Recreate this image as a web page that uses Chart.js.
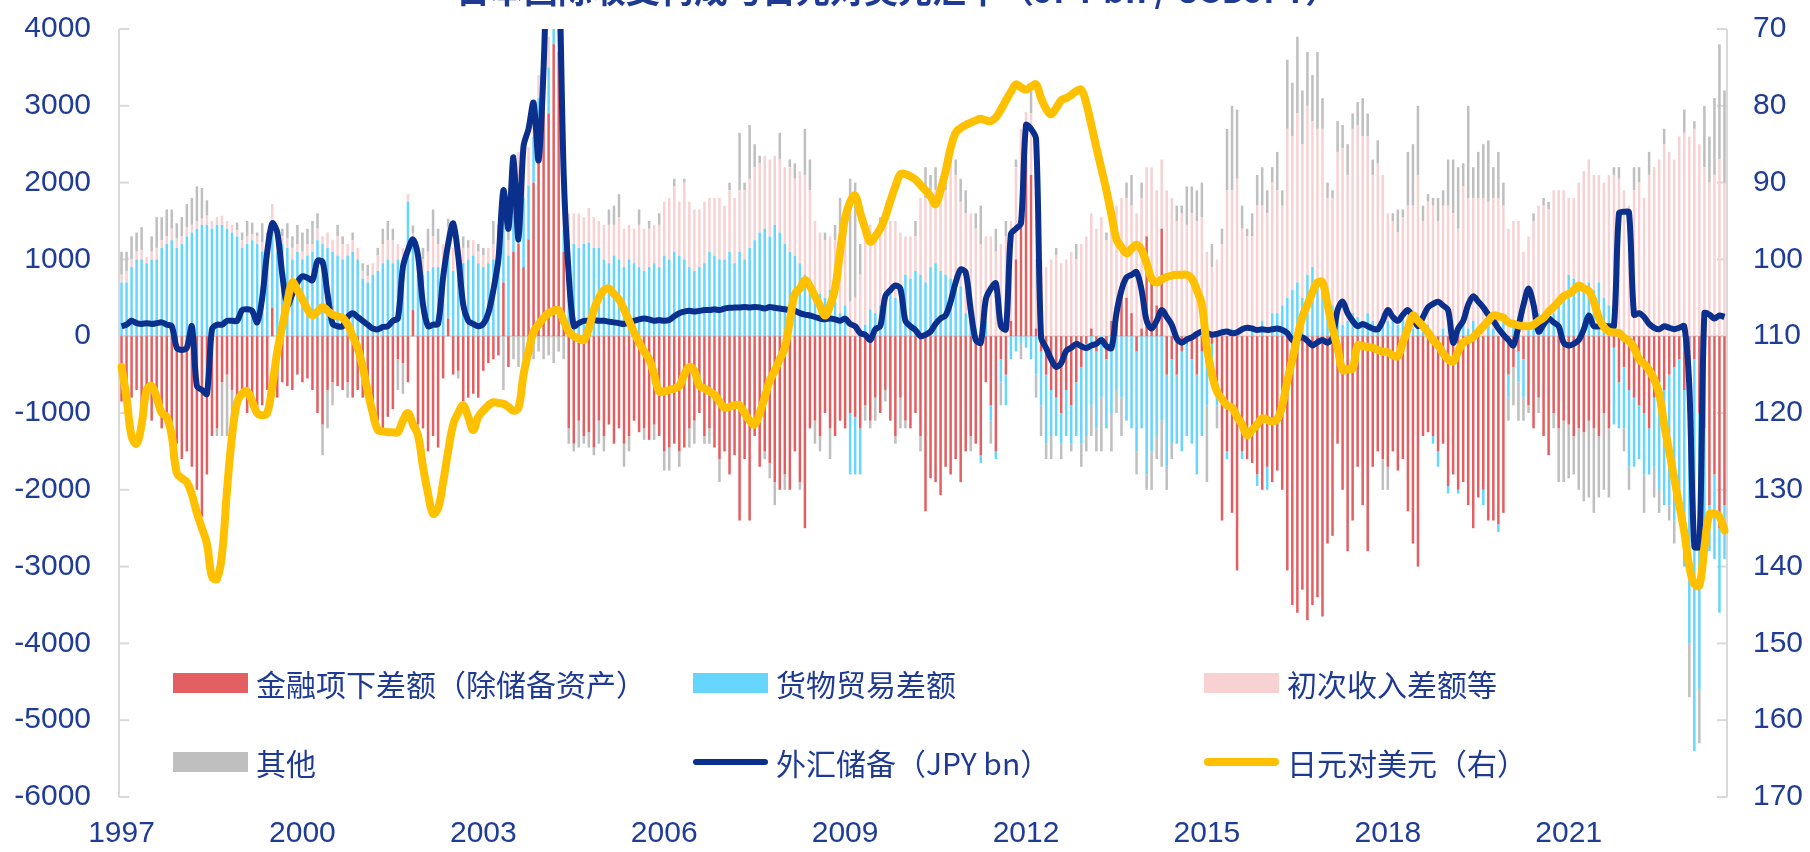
<!DOCTYPE html>
<html>
<head>
<meta charset="utf-8">
<script src="https://cdn.jsdelivr.net/npm/chart.js@4.4.0/dist/chart.umd.min.js"></script>
<style>
html, body { margin: 0; padding: 0; background: #fff; overflow: hidden; }
#wrap { position: relative; width: 1810px; height: 852px; }
#title { position: absolute; left: 456px; top: -28px; font: bold 34px/34px "Noto Sans CJK SC"; color: #1F3A93; white-space: nowrap; }
.leg { position: absolute; display: flex; align-items: center; height: 36px; font: 30px/36px "Noto Sans CJK SC"; color: #1F3A93; white-space: nowrap; }
.sw { width: 75px; height: 20px; margin-right: 8px; }
.ln { width: 75px; margin-right: 8px; border-radius: 4px; }
</style>
</head>
<body>
<div id="wrap">
  <canvas id="c" width="1810" height="852"></canvas>
  <div id="title">日本国际收支构成与日元对美元汇率（JPY bn / USDJPY）</div>
  <div class="leg" style="left:173px;top:665px"><span class="sw" style="background:#E45F61"></span>金融项下差额（除储备资产）</div>
  <div class="leg" style="left:693px;top:665px"><span class="sw" style="background:#66D6FF"></span>货物贸易差额</div>
  <div class="leg" style="left:1204px;top:665px"><span class="sw" style="background:#F8D2D2"></span>初次收入差额等</div>
  <div class="leg" style="left:173px;top:744px"><span class="sw" style="background:#BFBFBF"></span>其他</div>
  <div class="leg" style="left:693px;top:744px"><span class="ln" style="height:6px;background:#0A2F8C"></span>外汇储备（JPY bn）</div>
  <div class="leg" style="left:1204px;top:744px"><span class="ln" style="height:8px;background:#FFC000"></span>日元对美元（右）</div>
</div>
<script>
// monthly, Jan 1997 - Aug 2023, JPY bn (bars and reserves), JPY per USD (right axis)
const startYear = 1997
const yearTicks = ['1997', '2000', '2003', '2006', '2009', '2012', '2015', '2018', '2021']

const finBalance = [
  -850, -1000, -800, -700, -900, -650, -1100, -800, -1200, -1050, -1600, -1400,
  -1600, -1500, -1700, -2000, -2350, -1800, -1300, -1200, -600, -500, -700, -900,
  -700, -1000, -800, -1050, -900, -700, 370, -800, -600, -650, -700, -500,
  -600, -550, -700, -1000, -1150, -700, -600, -650, -700, -600, -800, -700,
  -800, -700, -1000, -1100, -1200, -1050, -950, -300, -350, -600, 340, -1150,
  -1200, -1500, -1300, -1450, -550, 230, -500, -450, -850, -800, -750, -800,
  -450, -350, -300, -250, 700, -400, 1100, 1200, 900, 1260, 2000, 2600,
  3100, 2900, 3800, 3700, 1100, -1200, -1400, -1100, -1300, -1250, -1450, -1100,
  -1300, -1150, -1400, -1200, -1400, -1300, -1100, -1250, -1200, -1350, -1150, -1300,
  -1500, -1450, -1400, -1500, -1450, -1200, -1100, -1000, -1300, -1200, -1450, -1600,
  -1500, -1800, -1550, -2400, -1600, -2400, -1300, -1700, -1500, -1650, -1900, -2000,
  -1800, -2000, -1500, -1900, -2500, -1200, -1100, -1300, -1000, -1200, -1300, -1100,
  -1200, -1000, -1050, -1200, -900, -1100, -800, -1000, -700, -1100, -1300, -800,
  -1100, -1200, -1000, -1300, -2280, -1850, -1900, -2070, -1700, -1800, -1600, -1900,
  -1500, -1300, -1400, -1550, -600, -900, -1500, -300, -500, 200, 1000, 1600,
  2320, 2100, 100, -200, -500, -700, -800, -1000, -700, -900, -600, -400,
  -100, 100, -200, 0, -300, 200, 400, 700, 500, 300, -200, 100,
  1300, 800, 400, 1400, -500, -300, -500, -200, -100, -300, -500, -200,
  -300, -100, -700, -2400, -1500, -2300, -3050, -1500, -1600, -1650, -1800, -2000,
  -1700, -1900, -1750, -2000, -3050, -3500, -3600, -3300, -3700, -3500, -3400, -3650,
  -2700, -2600, -1400, -2000, -2800, -2400, -1700, -2200, -2800, -1700, -1500, -1600,
  -1700, -1500, -1750, -1600, -2280, -2700, -3000, -1300, -1250, -1300, -1500, -1400,
  -1950, -1800, -2000, -1900, -2200, -2500, -2100, -2000, -2400, -2400, -2450, -2300,
  -500, -400, -200, -300, -900, -1200, -800, -1300, -1550, -1000, -1200, -1100,
  -1150, -1300, -1200, -1250, -1100, -1200, -1300, -1000, -1200, -150, -600, -400,
  -700, -800, -900, -1000, -1200, -800, -600, -700, -500, -400, -300, -700,
  -500, -300, -1000, -1200, -2200, -1800, -2500, -2200
]

const goodsBalance = [
  700, 700, 900, 1000, 1000, 950, 1000, 1000, 1150, 1200, 1250, 1150,
  1200, 1300, 1350, 1400, 1450, 1450, 1400, 1450, 1450, 1400, 1350, 1300,
  1150, 1200, 1250, 1200, 1100, 1000, 1050, 1100, 1200, 1150, 1000, 1100,
  1000, 1050, 1100, 1250, 1200, 1150, 1100, 1050, 1000, 1050, 1100, 1000,
  750, 700, 800, 850, 950, 1000, 950, 1000, 900, 1750, 850, 800,
  800, 850, 900, 900, 950, 1000, 850, 900, 950, 1000, 1050, 950,
  900, 950, 1000, 950, 900, 1050, 700, 800, 900, 700, 600, 500,
  500, 600, 400, 500, 300, 1250, 1200, 1150, 1200, 1220, 1150, 1150,
  1000, 950, 1050, 1000, 900, 1000, 950, 900, 850, 900, 950, 900,
  1050, 1000, 1100, 1050, 1000, 900, 850, 900, 950, 1100, 1050, 1000,
  1000, 1100, 950, 1100, 1000, 1150, 1250, 1350, 1400, 1300, 1450, 1350,
  1200, 1100, 1050, 950, 800, 700, 600, 550, 500, 600, 450, 300,
  400, -800, -750, -600, 150, 350, 300, 400, 500, 550, 500, 600,
  800, 750, 850, 800, 700, 900, 950, 850, 800, 750, 700, 650,
  300, 200, 100, -100, 200, -200, -100, -300, -400, -300, -200, -100,
  -150, -300, -500, -700, -900, -600, -500, -400, -600, -500, -700, -1000,
  -1200, -900, -1000, -800, -900, -1000, -700, -800, -1100, -1200, -1300, -1200,
  -1800, -1500, -1300, -1100, -1200, -1100, -900, -1300, -1200, -1100, -1300, -1100,
  -600, -400, -200, 100, -100, 100, 50, -100, 0, 100, -150, 200,
  -300, 300, 300, 400, 500, 600, 700, 500, 800, 900, 700, 600,
  300, 400, 200, 150, 200, 300, 250, 200, 300, 200, 150, 300,
  200, 300, 150, 250, 200, 100, 200, 100, 150, -100, -200, 100,
  -100, 100, -50, 150, 100, 200, 100, -200, 150, 100, -100, 200,
  -300, 200, -400, -500, 100, 200, 300, 200, 250, 300, 400, 500,
  800, 750, 700, 650, 700, 600, 700, 500, 400, -1000, -600, -800,
  -1000, -900, -700, -800, -600, -900, -1400, -1500, -1700, -2000, -1800, -2300,
  -3500, -5100, -3600, -1700, -600, -1100, -1100, -700
]

const incomeBalance = [
  100, 150, 100, 100, 120, 80, 100, 150, 100, 100, 150, 120,
  100, 120, 100, 100, 80, 120, 100, 100, 120, 100, 100, 80,
  100, 100, 80, 100, 120, 150, 300, 100, 100, 120, 150, 100,
  100, 150, 100, 150, 100, 200, 150, 250, 200, 150, 150, 150,
  100, 80, 150, 200, 250, 250, 300, 200, 250, 100, 150, 100,
  200, 250, 400, 300, 250, 200, 300, 250, 200, 150, 200, 150,
  150, 200, 200, 250, 200, 200, 300, 400, 500, 500, 300, 300,
  300, 400, 300, 300, 400, 350, 400, 450, 350, 450, 400, 350,
  450, 500, 400, 550, 500, 450, 450, 550, 550, 500, 500, 550,
  700, 800, 850, 700, 1000, 850, 800, 750, 800, 700, 750, 800,
  700, 800, 850, 800, 900, 900, 950, 900, 950, 1000, 900, 950,
  1000, 1100, 1000, 1200, 1300, 1200, 900, 800, 750, 700, 800, 1000,
  900, 450, 500, 800, 1100, 1100, 1000, 1050, 1000, 950, 1000, 750,
  500, 550, 450, 1000, 1100, 1000, 950, 1100, 1100, 1500, 1400, 1100,
  1300, 1400, 1300, 1200, 1100, 1300, 1100, 1200, 1300, 1300, 1200, 1100,
  600, 800, 900, 1000, 900, 1000, 1050, 950, 1000, 1100, 1000, 1200,
  1300, 1500, 1400, 1550, 1250, 1300, 1300, 1100, 1300, 1400, 1600, 1700,
  900, 1400, 1500, 900, 1900, 1800, 1500, 1600, 1450, 1600, 1500, 1550,
  1100, 900, 1000, 1100, 1900, 1800, 2000, 1400, 1300, 1200, 1700, 1500,
  1600, 1700, 1600, 1300, 2200, 2000, 2200, 2000, 2200, 1900, 2000, 2100,
  1500, 1400, 2200, 2300, 1900, 2400, 2500, 2400, 2300, 1900, 2100, 1800,
  1400, 1200, 1200, 1300, 1500, 1600, 1900, 1400, 1600, 1700, 1500, 1600,
  1700, 1500, 1400, 1800, 1700, 1600, 1700, 1800, 1600, 1700, 1800, 1500,
  1400, 1300, 1500, 1100, 1200, 1300, 1400, 1500, 1400, 1600, 1500, 1400,
  1000, 1050, 1300, 1500, 1600, 1500, 1400, 1500, 1700, 2100, 2050, 1900,
  1700, 1900, 2000, 1800, 2100, 2200, 2300, 2500, 2400, 2300, 2600, 2650,
  2600, 2700, 2500, 2200, 2000, 2100, 2300, 2000
]

const otherBalance = [
  300, 250, 300, 250, 300, 0, 200, 400, 300, 350, 250, 200,
  250, 300, 350, 450, 400, 200, 0, -100, -700, -800, -500, 100,
  100, 200, 150, 50, 250, 200, 0, 150, 100, 200, 150, 250,
  250, 200, 300, 200, -400, -500, -300, 150, 100, -200, 100, 0,
  100, 150, 0, 100, 200, 250, 150, -400, -400, 0, 100, -200,
  150, 300, 350, 200, 0, 100, 0, -100, 150, 100, 0, 100,
  100, 0, 300, 250, -700, 150, -300, -400, -300, -250, -300, -200,
  -300, -250, -350, -200, -300, -200, -100, -350, -100, -200, -100, -300,
  -200, 200, 250, 300, -300, -200, 0, 200, -150, 100, -200, 150,
  -250, -300, 100, -200, 50, -250, -300, 0, -100, -200, 0, -300,
  0, 100, 0, 750, 100, 700, 300, 100, -100, -200, -300, 350,
  -200, 100, 200, -100, 600, 400, -300, -200, 100, -400, 200, 500,
  300, 1600, 1500, 400, -200, -100, -300, 100, -150, 0, -100, -400,
  -100, 0, 200, -200, 400, 200, 300, 100, 200, 100, 200, 300,
  300, -200, 200, 500, 0, -300, 300, -300, 200, 0, 100, -200,
  0, 300, -300, -400, -200, -300, 100, -200, 0, -100, 200, -300,
  -200, -400, -300, -700, 100, -500, -300, -500, 200, 400, -300, 200,
  -200, -500, -300, -600, -300, -200, 200, 100, 500, 350, 400, 450,
  -1000, 300, -300, 200, 800, 1100, 900, 300, 100, 300, 400, 500,
  300, 200, 500, 200, 900, 700, 1000, 700, 700, 600, 1000, 400,
  200, 100, 400, 300, 400, 200, 300, 500, 300, 200, 300, -400,
  -300, 100, 300, 100, 700, 800, 900, 200, 100, 100, 300, 200,
  600, 700, 800, 300, 1200, 400, 600, 700, 800, 400, 600, 300,
  -300, -500, -500, -300, -100, 100, -200, 100, 100, -200, -700, -800,
  -700, -500, -800, -900, -1000, -1100, -800, -1000, -900, 100, 150, -300,
  -300, 300, 200, -500, 300, -400, -300, 200, -200, -300, -200, 300,
  -700, 100, -700, 800, 600, 1000, 1500, 1200
]

const fxReserves = [
  130, 150, 200, 170, 160, 170, 160, 170, 180, 150, 130, -150,
  -180, -150, 130, -650, -700, -750, 90, 150, 150, 200, 200, 200,
  340, 350, 330, 180, 500, 1100, 1470, 1350, 800, 400, 550, 700,
  780, 760, 730, 980, 970, 550, 160, 130, 130, 250, 300, 250,
  200, 150, 100, 90, 120, 130, 200, 230, 900, 1120, 1260, 1050,
  410, 130, 150, 160, 765, 1200, 1470, 1050, 410, 200, 160, 130,
  160, 300, 600, 1000, 1900, 1400, 2330, 1260, 2470, 2700, 3040, 2290,
  3500, 5500, 6000, 5000, 2100, 800, 130, 170, 200, 200, 210, 200,
  200, 190, 180, 170, 160, 180, 200, 220, 230, 220, 200, 210,
  200, 210, 260, 300, 320, 330, 320, 330, 340, 340, 350, 340,
  360, 370, 375, 375, 380, 375, 380, 375, 360, 380, 370, 360,
  350, 340, 330, 300, 280, 270, 250, 230, 220, 230, 220, 200,
  230, 160, 130, 40, 20, -50, 90, 130, 520, 600, 660, 620,
  200, 130, 80, 0, 20, 60, 160, 230, 270, 450, 700, 870,
  830, 340, -50, -85, 480, 620, 690, 130, 90, 1330, 1400, 1470,
  2750, 2700, 2570, -15, -155, -300, -400, -350, -190, -150, -100, -130,
  -155, -120, -100, -50, -130, -155, 300, 600, 765, 800, 835, 600,
  200, 100, 200, 340, 250, 150, -30, -85, -40, -15, 30, 60,
  40, 20, 30, 50, 60, 40, 50, 90, 110, 100, 80, 90,
  80, 90, 100, 80, 40, -50, -30, -15, -60, -120, -80, -50,
  -85, -20, 340, 450, 300, 200, 130, 160, 130, 100, 90, 200,
  340, 250, 200, 280, 340, 250, 130, 250, 375, 420, 450, 400,
  340, -85, 100, 200, 410, 520, 450, 375, 280, 200, 100, 20,
  -50, -120, 130, 410, 620, 410, 60, 150, 230, 180, 130, -85,
  -120, -100, -50, 90, 270, 130, 130, 130, 130, 130, 1600, 1620,
  1610, 280, 300, 250, 160, 110, 90, 130, 110, 90, 110, 130,
  -650, -2740, -2740, 300, 280, 230, 270, 250
]

const usdJpy = [
  114, 118, 123, 124, 121.5, 117, 116.5, 118, 120, 120.5, 123, 127.8,
  128.5, 129, 130.6, 133, 135, 137, 141.3, 141.6, 138.4, 130, 123, 118.6,
  117.5, 117.2, 118.5, 120, 120.3, 120, 116.5, 112, 108.7, 105.5, 103, 104,
  105.2, 106.5, 107.3, 106.8, 106.2, 106.7, 107.2, 107.4, 107.6, 108.5, 110, 111.5,
  114, 117.2, 120, 122.2, 122.4, 122.5, 122.5, 122.5, 121, 120, 121.5, 122.9,
  127, 130.5, 133.1, 132.4, 129, 125, 121.5, 120, 119, 120.5, 122.2, 120.5,
  119.7, 119, 118.6, 118.7, 118.8, 119.2, 119.7, 119.3, 115, 112, 109.4, 108.5,
  107.6, 107, 106.7, 106.6, 108, 109.4, 110, 110.3, 110.5, 109, 106.6, 105,
  104, 103.8, 104.5, 105.2, 106.5, 108, 109.5, 110.8, 112, 113, 115, 117.2,
  117.2, 117, 116.8, 116.5, 115, 114, 114.5, 116.5, 116.8, 117.2, 117.6, 118.5,
  119.3, 119.2, 119, 119, 120, 121, 121.5, 120, 118, 115.8, 114.5, 113,
  111.5, 108, 104.5, 103.8, 102.7, 103.5, 104.8, 106, 107.3, 106, 103.8, 99,
  94.6, 92.5, 91.7, 93.9, 96, 97.7, 97, 96, 94.5, 92.4, 90.5, 88.9,
  88.9, 89.2, 89.6, 90.3, 91, 91.8, 92.8, 91, 88.5, 85.5, 83.5, 82.9,
  82.5, 82.2, 81.9, 81.7, 81.9, 82, 81.5, 80.5, 79.3, 78.2, 77.2, 77.6,
  77.9, 77.5, 77.2, 79, 80.4, 81.1, 80.3, 79.3, 79, 78.6, 78.1, 77.9,
  79.7, 82.5, 85.4, 88.2, 91, 94.2, 97.4, 98.4, 99.2, 98.6, 98.1, 98.8,
  100.5, 102.5, 103, 102.6, 102.3, 102.1, 102, 102, 102, 102.5, 104, 105.9,
  111.5, 115, 117.2, 118.2, 119, 119.3, 120.5, 121.5, 122.9, 122.2, 121.5, 120.7,
  120.9, 121.1, 120.8, 119, 115.8, 113, 110.1, 107.5, 105.9, 104.3, 103, 103,
  105.9, 109, 111.5, 114.4, 114.3, 114.2, 111.2, 111.3, 111.4, 111.5, 111.8, 112,
  112.1, 112.5, 112.6, 110.8, 109, 107.3, 108, 108.7, 109.5, 110.5, 111.2, 112.2,
  113, 113.3, 112, 110.8, 110.5, 110.1, 109.4, 108.7, 108, 107.3, 107.4, 107.6,
  108.2, 108.4, 108.6, 108.7, 108.7, 108.5, 108, 107.6, 106.8, 106.2, 105.5, 104.8,
  104.5, 104, 103.4, 103.8, 104.1, 105.5, 107.6, 108.8, 109.4, 109.5, 109.6, 110.2,
  110.6, 111.5, 113, 113.6, 114.4, 115.6, 117.5, 121.5, 125, 128.5, 132, 135.5,
  140, 142.3, 142.5, 137.5, 133.2, 133.1, 133.5, 135.3
]

const months = finBalance.map((_, i) => `${startYear + Math.floor(i / 12)}-${String(i % 12 + 1).padStart(2, '0')}`)

const labelColor = '#1F3C96'
const tickFont = { family: '"Liberation Sans", Arial, sans-serif', size: 30 }

// Excel style frame: light grey axis lines, inner tick marks, zero line
const axisFrame = {
    id: 'axisFrame',
    beforeDatasetsDraw(chart) {
        const { ctx, chartArea: a, scales } = chart
        const seg = (x1, y1, x2, y2) => {
            ctx.beginPath()
            ctx.moveTo(x1, y1)
            ctx.lineTo(x2, y2)
            ctx.stroke()
        }
        ctx.save()
        ctx.strokeStyle = '#D9D9D9'
        ctx.lineWidth = 2
        const zero = scales.y.getPixelForValue(0)
        seg(a.left, zero, a.right, zero)
        seg(a.left, a.top, a.left, a.bottom)
        seg(a.right, a.top, a.right, a.bottom)
        scales.y.ticks.forEach(t => {
            const p = scales.y.getPixelForValue(t.value)
            seg(a.left, p, a.left + 10, p)
        })
        scales.y2.ticks.forEach(t => {
            const p = scales.y2.getPixelForValue(t.value)
            seg(a.right - 10, p, a.right, p)
        })
        ctx.restore()
    }
}

// fixed side widths, and no extra label padding above/below the plot
const fixSide = width => s => {
    s.width = width
    s.paddingTop = 0
    s.paddingBottom = 0
}

const barStyle = {
    type: 'bar',
    yAxisID: 'y',
    stack: 'bop',
    order: 2,
    barPercentage: 0.5,
    categoryPercentage: 1,
    borderWidth: 0,
}

new Chart(document.getElementById('c'), {
    data: {
        labels: months,
        datasets: [
            { ...barStyle, label: '金融项下差额（除储备资产）', data: finBalance, backgroundColor: '#E45F61' },
            { ...barStyle, label: '货物贸易差额', data: goodsBalance, backgroundColor: '#66D6FF' },
            { ...barStyle, label: '初次收入差额等', data: incomeBalance, backgroundColor: '#F8D2D2' },
            { ...barStyle, label: '其他', data: otherBalance, backgroundColor: '#BFBFBF' },
            {
                type: 'line', label: '外汇储备（JPY bn）', data: fxReserves, yAxisID: 'y', stack: 'fx', order: 1,
                borderColor: '#0A2F8C', borderWidth: 6, pointRadius: 0, tension: 0.3, borderJoinStyle: 'round',
            },
            {
                type: 'line', label: '日元对美元（右）', data: usdJpy, yAxisID: 'y2', order: 0,
                borderColor: '#FFC000', borderWidth: 8, pointRadius: 0, tension: 0.4,
                borderCapStyle: 'round', borderJoinStyle: 'round',
            },
        ],
    },
    options: {
        responsive: false,
        animation: false,
        events: [],
        layout: { padding: { top: 29, left: 0, right: 0, bottom: 0 } },
        plugins: { legend: { display: false }, tooltip: { enabled: false } },
        scales: {
            x: {
                stacked: true,
                offset: true,
                grid: { display: false, drawTicks: false },
                border: { display: false },
                ticks: {
                    autoSkip: false, maxRotation: 0, minRotation: 0, padding: 19,
                    color: labelColor, font: tickFont,
                    callback: (v, i) => (i % 36 === 0 ? yearTicks[i / 36] : null),
                },
                afterFit: s => { s.height = 55 },
            },
            y: {
                stacked: true,
                position: 'left',
                min: -6000,
                max: 4000,
                grid: { display: false, drawTicks: false },
                border: { display: false },
                ticks: { stepSize: 1000, padding: 28, color: labelColor, font: tickFont, callback: v => String(v) },
                afterFit: fixSide(119),
            },
            y2: {
                position: 'right',
                reverse: true,
                min: 70,
                max: 170,
                grid: { display: false, drawTicks: false },
                border: { display: false },
                ticks: { stepSize: 10, padding: 26, color: labelColor, font: tickFont },
                afterFit: fixSide(83),
            },
        },
    },
    plugins: [axisFrame],
})
</script>
</body>
</html>
